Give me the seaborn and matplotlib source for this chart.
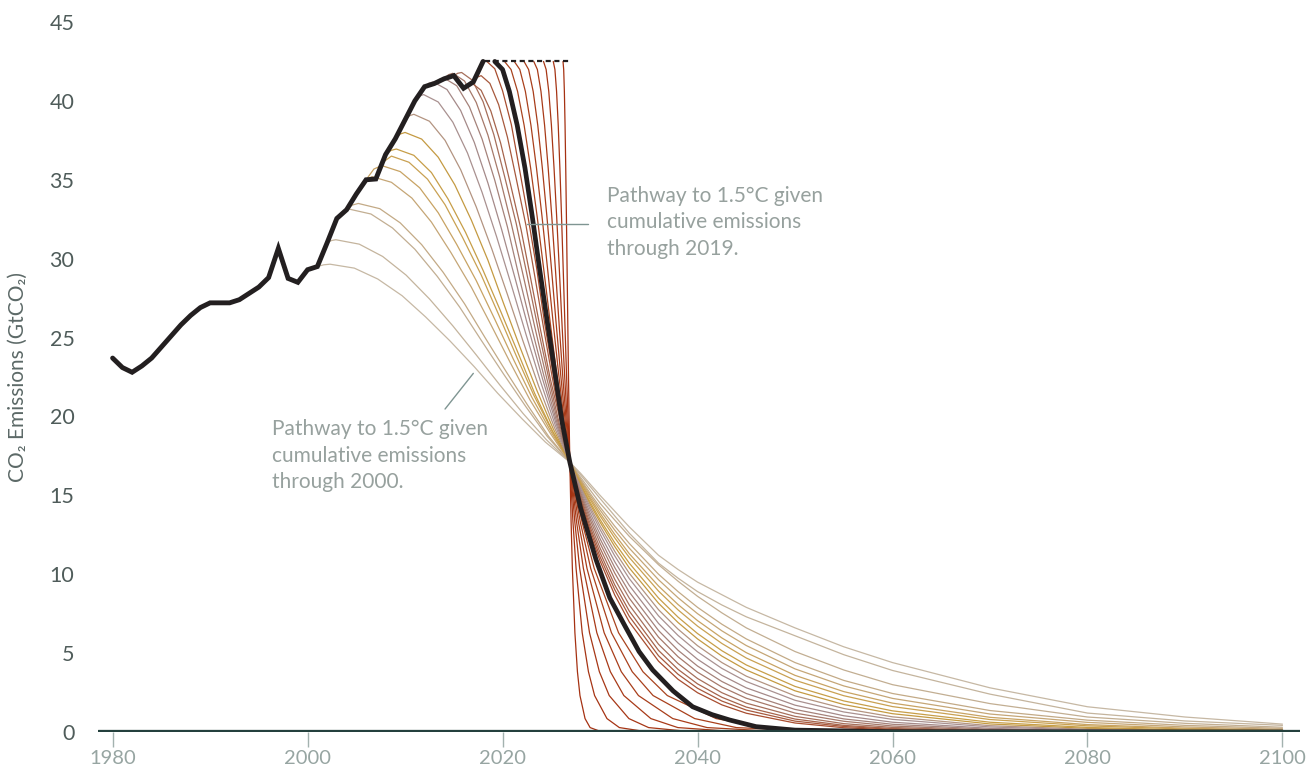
import matplotlib
matplotlib.use("Agg")
import matplotlib.pyplot as plt
import seaborn as sns
import pandas as pd

# ---- data ----
hist_years = list(range(1980, 2019))
hist_values = [23.7, 23.1, 22.8, 23.2, 23.7, 24.4, 25.1, 25.8, 26.4, 26.9,
               27.2, 27.2, 27.2, 27.4, 27.8, 28.2, 28.8, 30.65, 28.75, 28.5,
               29.3, 29.5, 31.0, 32.55, 33.1, 34.1, 35.0, 35.05, 36.6, 37.6,
               38.8, 40.0, 40.9, 41.1, 41.4, 41.6, 40.8, 41.2, 42.5]

# every pathway passes through (almost) the same point
cross_year, cross_value = 2026.9, 17.1
tail_years = [2028, 2029, 2030, 2031.5, 2033, 2036, 2038, 2040, 2042.5, 2045,
              2050, 2055, 2060, 2070, 2080, 2090, 2100]

# pathways leaving the historical line (through 2000 ... through 2017)
early_start = list(range(2001, 2019))
early_head_years = [
    [2001, 2001.65, 2002.3, 2004.8, 2007.2, 2009.7, 2012.1, 2014.6, 2017.1, 2019.5, 2022.0, 2024.4],
    [2002, 2002.45, 2002.9, 2005.3, 2007.7, 2010.1, 2012.5, 2014.9, 2017.3, 2019.7, 2022.1, 2024.5],
    [2003, 2003.6, 2004.2, 2006.5, 2008.7, 2011.0, 2013.3, 2015.6, 2017.8, 2020.1, 2022.4, 2024.6],
    [2004, 2004.6, 2005.2, 2007.4, 2009.5, 2011.7, 2013.9, 2016.1, 2018.2, 2020.4, 2022.6, 2024.7],
    [2005, 2005.8, 2006.6, 2008.6, 2010.7, 2012.7, 2014.7, 2016.8, 2018.8, 2020.8, 2022.8, 2024.9],
    [2006, 2006.8, 2007.6, 2009.5, 2011.5, 2013.4, 2015.3, 2017.3, 2019.2, 2021.1, 2023.0, 2025.0],
    [2007, 2007.8, 2008.6, 2010.4, 2012.3, 2014.1, 2015.9, 2017.8, 2019.6, 2021.4, 2023.2, 2025.1],
    [2008, 2008.55, 2009.1, 2010.9, 2012.7, 2014.4, 2016.2, 2018.0, 2019.8, 2021.6, 2023.3, 2025.1],
    [2009, 2009.5, 2010.0, 2011.7, 2013.4, 2015.1, 2016.8, 2018.5, 2020.1, 2021.8, 2023.5, 2025.2],
    [2010, 2010.45, 2010.9, 2012.5, 2014.1, 2015.7, 2017.3, 2018.9, 2020.5, 2022.1, 2023.7, 2025.3],
    [2011, 2011.45, 2011.9, 2013.4, 2014.9, 2016.4, 2017.9, 2019.4, 2020.9, 2022.4, 2023.9, 2025.4],
    [2012, 2012.45, 2012.9, 2014.3, 2015.7, 2017.1, 2018.5, 2019.9, 2021.3, 2022.7, 2024.1, 2025.5],
    [2013, 2013.5, 2014.0, 2015.3, 2016.6, 2017.9, 2019.2, 2020.5, 2021.7, 2023.0, 2024.3, 2025.6],
    [2014, 2014.45, 2014.9, 2016.1, 2017.3, 2018.5, 2019.7, 2020.9, 2022.1, 2023.3, 2024.5, 2025.7],
    [2015, 2015.4, 2015.8, 2016.9, 2018.0, 2019.1, 2020.2, 2021.4, 2022.5, 2023.6, 2024.7, 2025.8],
    [2016, 2016.4, 2016.8, 2017.8, 2018.8, 2019.8, 2020.8, 2021.9, 2022.9, 2023.9, 2024.9, 2026.0],
    [2017, 2017.4, 2017.8, 2018.7, 2019.6, 2020.5, 2021.4, 2022.4, 2023.3, 2024.2, 2025.1, 2026.0],
    [2018, 2018.15, 2018.3, 2019.2, 2020.0, 2020.9, 2021.7, 2022.6, 2023.5, 2024.3, 2025.2, 2026.0],
]
early_head_values = [
    [29.5, 29.61, 29.65, 29.4, 28.71, 27.65, 26.31, 24.79, 23.15, 21.47, 19.85, 18.37],
    [31.0, 31.15, 31.2, 30.92, 30.14, 28.96, 27.45, 25.74, 23.9, 22.01, 20.19, 18.52],
    [32.55, 33.0, 33.15, 32.83, 31.95, 30.6, 28.88, 26.93, 24.84, 22.69, 20.61, 18.72],
    [33.1, 33.4, 33.5, 33.17, 32.27, 30.89, 29.14, 27.14, 25.0, 22.81, 20.69, 18.76],
    [34.1, 34.93, 35.2, 34.84, 33.84, 32.32, 30.39, 28.19, 25.82, 23.4, 21.06, 18.93],
    [35.0, 35.68, 35.9, 35.52, 34.49, 32.91, 30.9, 28.61, 26.16, 23.64, 21.22, 19.0],
    [35.05, 36.14, 36.5, 36.11, 35.04, 33.42, 31.34, 28.98, 26.45, 23.85, 21.35, 19.06],
    [36.6, 36.86, 36.95, 36.55, 35.46, 33.79, 31.67, 29.26, 26.67, 24.01, 21.45, 19.1],
    [37.6, 37.9, 38.0, 37.58, 36.43, 34.68, 32.44, 29.9, 27.17, 24.37, 21.68, 19.21],
    [38.8, 39.06, 39.15, 38.71, 37.5, 35.64, 33.28, 30.61, 27.73, 24.77, 21.93, 19.33],
    [40.0, 40.3, 40.4, 39.93, 38.65, 36.7, 34.2, 31.37, 28.33, 25.21, 22.2, 19.45],
    [40.9, 41.13, 41.2, 40.72, 39.39, 37.37, 34.79, 31.86, 28.72, 25.49, 22.38, 19.53],
    [41.1, 41.36, 41.45, 40.96, 39.62, 37.58, 34.97, 32.01, 28.84, 25.57, 22.43, 19.56],
    [41.4, 41.66, 41.75, 41.26, 39.9, 37.83, 35.19, 32.2, 28.98, 25.68, 22.5, 19.59],
    [41.6, 41.75, 41.8, 41.31, 39.95, 37.87, 35.23, 32.23, 29.01, 25.7, 22.51, 19.59],
    [40.8, 41.06, 41.15, 40.67, 39.35, 37.33, 34.75, 31.83, 28.69, 25.47, 22.37, 19.53],
    [41.2, 41.5, 41.6, 41.11, 39.76, 37.7, 35.08, 32.11, 28.91, 25.63, 22.47, 19.57],
    [42.5, 42.54, 42.55, 42.04, 40.64, 38.5, 35.78, 32.69, 29.37, 25.96, 22.67, 19.67],
]
early_tail_values = [
    [16.4, 15.7, 15.0, 14.0, 13.0, 11.2, 10.3, 9.5, 8.7, 7.9, 6.6, 5.4, 4.4, 2.8, 1.6, 0.95, 0.5],
    [16.3, 15.55, 14.8, 13.7, 12.6, 10.7, 9.75, 8.9, 8.05, 7.3, 6.1, 4.9, 3.9, 2.4, 1.2, 0.7, 0.42],
    [16.14, 15.32, 14.5, 13.44, 12.4, 10.6, 9.56, 8.6, 7.55, 6.6, 5.1, 3.93, 3.0, 1.8, 0.95, 0.55, 0.3],
    [16.03, 15.11, 14.25, 13.05, 11.95, 10.0, 8.9, 7.9, 6.83, 5.9, 4.4, 3.27, 2.44, 1.36, 0.75, 0.42, 0.23],
    [15.96, 14.98, 14.07, 12.8, 11.65, 9.65, 8.51, 7.5, 6.41, 5.48, 4.0, 2.92, 2.13, 1.14, 0.61, 0.32, 0.17],
    [15.88, 14.84, 13.87, 12.53, 11.3, 9.25, 8.08, 7.06, 5.96, 5.03, 3.59, 2.56, 1.83, 0.93, 0.47, 0.24, 0.12],
    [15.81, 14.72, 13.7, 12.31, 11.06, 8.93, 7.74, 6.71, 5.61, 4.69, 3.28, 2.3, 1.61, 0.79, 0.39, 0.19, 0.09],
    [15.71, 14.55, 13.47, 12.0, 10.7, 8.49, 7.28, 6.24, 5.15, 4.25, 2.89, 1.97, 1.34, 0.62, 0.29, 0.13, 0.06],
    [15.64, 14.42, 13.3, 11.76, 10.4, 8.16, 6.94, 5.9, 4.81, 3.93, 2.61, 1.74, 1.16, 0.51, 0.23, 0.1, 0.04],
    [15.54, 14.25, 13.06, 11.46, 10.06, 7.75, 6.52, 5.47, 4.4, 3.54, 2.29, 1.49, 0.96, 0.4, 0.17, 0.07, 0.03],
    [15.44, 14.08, 12.83, 11.17, 9.72, 7.36, 6.12, 5.08, 4.03, 3.2, 2.01, 1.27, 0.8, 0.32, 0.13, 0.05, 0.02],
    [15.32, 13.86, 12.54, 10.8, 9.29, 6.88, 5.64, 4.61, 3.59, 2.8, 1.7, 1.03, 0.62, 0.23, 0.08, 0.03, 0.01],
    [15.19, 13.64, 12.25, 10.43, 8.87, 6.43, 5.18, 4.18, 3.2, 2.44, 1.43, 0.83, 0.49, 0.17, 0.06, 0.02, 0.01],
    [15.07, 13.43, 11.97, 10.08, 8.48, 6.01, 4.77, 3.79, 2.85, 2.14, 1.2, 0.68, 0.38, 0.12, 0.04, 0.01, 0.0],
    [14.93, 13.19, 11.66, 9.69, 8.05, 5.56, 4.34, 3.39, 2.49, 1.83, 0.99, 0.53, 0.29, 0.08, 0.02, 0.01, 0.0],
    [14.8, 12.97, 11.37, 9.33, 7.66, 5.17, 3.97, 3.05, 2.2, 1.58, 0.82, 0.42, 0.22, 0.06, 0.02, 0.0, 0.0],
    [14.68, 12.77, 11.1, 9.03, 7.33, 4.83, 3.66, 2.77, 1.96, 1.39, 0.69, 0.35, 0.17, 0.04, 0.01, 0.0, 0.0],
    [14.55, 12.56, 10.84, 8.69, 6.97, 4.49, 3.34, 2.49, 1.72, 1.19, 0.57, 0.27, 0.13, 0.03, 0.01, 0.0, 0.0],
]
early_colors = ["#c6b8a4", "#c4b49d", "#c2ae92", "#c3aa86", "#c5a676", "#c8a363",
                "#c9a152", "#c79e48", "#c49a42", "#b39481", "#a99190", "#a58a89",
                "#a5827a", "#a6796a", "#a66f5b", "#a6644c", "#a7593d", "#a84d2f"]

# the highlighted pathway (given cumulative emissions through 2019)
path2019_years = [2019.2, 2020.0, 2020.7, 2021.5, 2022.3, 2023.05, 2023.8, 2024.6,
                  2025.4, 2026.1, 2026.9, 2028, 2029.6, 2031, 2032.6, 2034, 2035.4,
                  2037.5, 2039.5, 2041.5, 2043.3, 2046, 2050, 2060, 2100]
path2019_values = [42.5, 41.99, 40.6, 38.46, 35.74, 32.66, 29.34, 25.94, 22.66, 19.67,
                   17.1, 14.2, 10.9, 8.5, 6.67, 5.1, 3.93, 2.6, 1.6, 1.1, 0.76, 0.34,
                   0.12, 0.02, 0.0]

# late pathways leaving the flat (dashed) emissions line
flat_level = 42.5
flat_end = 2026.8
late_start = [2020.2, 2021.2, 2022.2, 2023.2, 2024.2, 2025.2, 2026.2]
late_values = [42.5, 41.99, 40.6, 38.46, 35.74, 32.66, 29.34, 25.94, 22.66, 19.67,
               17.1, 13.32, 10.37, 6.29, 3.82, 2.31, 0.85, 0.28, 0.04, 0.02]
late_years = [
    [2020.2, 2020.87, 2021.54, 2022.21, 2022.88, 2023.55, 2024.22, 2024.89, 2025.56, 2026.23,
     2026.9, 2028.15, 2029.4, 2031.9, 2034.4, 2036.9, 2041.9, 2046.9, 2056.9, 2100],
    [2021.2, 2021.77, 2022.34, 2022.91, 2023.48, 2024.05, 2024.62, 2025.19, 2025.76, 2026.33,
     2026.9, 2027.97, 2029.04, 2031.17, 2033.3, 2035.44, 2039.71, 2043.98, 2052.5, 2100],
    [2022.2, 2022.67, 2023.14, 2023.61, 2024.08, 2024.55, 2025.02, 2025.49, 2025.96, 2026.43,
     2026.9, 2027.78, 2028.66, 2030.42, 2032.18, 2033.94, 2037.46, 2040.98, 2048.0, 2100],
    [2023.2, 2023.57, 2023.94, 2024.31, 2024.68, 2025.05, 2025.42, 2025.79, 2026.16, 2026.53,
     2026.9, 2027.59, 2028.29, 2029.67, 2031.06, 2032.44, 2035.21, 2037.98, 2043.5, 2100],
    [2024.2, 2024.47, 2024.74, 2025.01, 2025.28, 2025.55, 2025.82, 2026.09, 2026.36, 2026.63,
     2026.9, 2027.41, 2027.91, 2028.92, 2029.93, 2030.94, 2032.96, 2034.98, 2039.0, 2100],
    [2025.2, 2025.37, 2025.54, 2025.71, 2025.88, 2026.05, 2026.22, 2026.39, 2026.56, 2026.73,
     2026.9, 2027.22, 2027.54, 2028.17, 2028.81, 2029.44, 2030.71, 2031.98, 2034.52, 2100],
    [2026.2, 2026.27, 2026.34, 2026.41, 2026.48, 2026.55, 2026.62, 2026.69, 2026.76, 2026.83,
     2026.9, 2027.03, 2027.16, 2027.42, 2027.68, 2027.94, 2028.46, 2028.98, 2030.02, 2100],
]
late_colors = ["#a9441f", "#a9401c", "#a83d1a", "#a83a18", "#a73716", "#a63414", "#a53112"]

x_ticks = [1980, 2000, 2020, 2040, 2060, 2080, 2100]
y_ticks = [0, 5, 10, 15, 20, 25, 30, 35, 40, 45]

# ---- style ----
sns.set_theme(style="white")
plt.rcParams["font.family"] = ["Lato", "DejaVu Sans"]

INK = "#231f20"
NOTE = "#97a19e"

# ---- long tables for seaborn ----
rows = []
for i, start in enumerate(early_start):
    xs = early_head_years[i] + [cross_year] + tail_years
    ys = early_head_values[i] + [cross_value] + early_tail_values[i]
    for x, y in zip(xs, ys):
        rows.append((f"from {start}", x, y))
early_df = pd.DataFrame(rows, columns=["pathway", "year", "co2"])
early_pal = {f"from {s}": c for s, c in zip(early_start, early_colors)}

rows = []
for start, xs in zip(late_start, late_years):
    for x, y in zip(xs, late_values):
        rows.append((f"from {start}", x, y))
late_df = pd.DataFrame(rows, columns=["pathway", "year", "co2"])
late_pal = {f"from {s}": c for s, c in zip(late_start, late_colors)}

fig = plt.figure(figsize=(13.11, 7.69), dpi=100)
ax = fig.add_axes([98 / 1311, 37 / 769, 1202 / 1311, 710 / 769])

sns.lineplot(data=early_df, x="year", y="co2", hue="pathway", palette=early_pal,
             estimator=None, sort=False, legend=False, linewidth=0.9, ax=ax)
sns.lineplot(data=late_df, x="year", y="co2", hue="pathway", palette=late_pal,
             estimator=None, sort=False, legend=False, linewidth=0.9, ax=ax)
sns.lineplot(x=path2019_years, y=path2019_values, color=INK, linewidth=3.4,
             estimator=None, sort=False, ax=ax)
sns.lineplot(x=hist_years, y=hist_values, color=INK, linewidth=3.5,
             estimator=None, sort=False, solid_joinstyle="miter", ax=ax)
ax.plot([hist_years[-1] + 0.2, flat_end], [flat_level, flat_level], color=INK,
        linewidth=1.6, linestyle=(0, (2.3, 1.6)), zorder=5)

# baseline
ax.axhline(0, color="#24403d", linewidth=3.8, zorder=10)

# annotations
ax.plot([2022.5, 2028.8], [32.2, 32.2], color="#7f9592", linewidth=1.0, zorder=6)
ax.text(2030.7, 32.3, "Pathway to 1.5°C given\ncumulative emissions\nthrough 2019.",
        ha="left", va="center", fontsize=15, color=NOTE, linespacing=1.4)
ax.plot([2017.0, 2014.1], [22.73, 20.47], color="#7f9592", linewidth=1.0, zorder=6)
ax.text(1996.35, 17.5, "Pathway to 1.5°C given\ncumulative emissions\nthrough 2000.",
        ha="left", va="center", fontsize=15, color=NOTE, linespacing=1.4)

ax.set_xlim(1978.5, 2101.8)
ax.set_ylim(0, 45)
ax.set_xticks(x_ticks)
ax.set_yticks(y_ticks)
ax.set_xlabel("")
ax.set_ylabel("CO₂ Emissions (GtCO₂)", fontsize=15, color="#5c6967")
ax.yaxis.set_label_coords(-0.058, 0.5)
ax.tick_params(axis="x", length=11, width=1, color="#a3b2af", pad=2,
               labelsize=14.5, labelcolor="#97a5a2", direction="out", bottom=True)
ax.tick_params(axis="y", length=0, pad=17, labelsize=15.5, labelcolor="#4f5c5a")
for sp in ax.spines.values():
    sp.set_visible(False)
ax.grid(False)

fig.savefig("out.png", dpi=100)
